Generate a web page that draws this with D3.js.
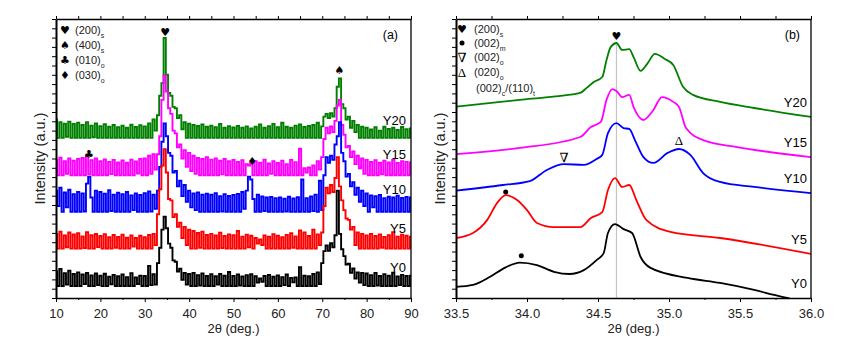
<!DOCTYPE html>
<html>
<head>
<meta charset="utf-8">
<script src="https://cdn.jsdelivr.net/npm/d3@7"></script>
<style>
    body { margin: 0; background: white; }
    svg { display: block; font-family: "Liberation Sans", Arial, sans-serif; }
</style>
</head>
<body>
<div id="container"></div>
<script>
// panel (a): wide scan, one reading every 0.5 deg from 10 to 90 (a.u., already stacked)
const wideStart = 10
const wideStep = 0.5
const wideY0 = [
    9.6, 4.3, 10.4, 4.3, 8.9, 4.8, 9.8, 4.3, 8.6, 4.3,
    9.2, 4.3, 8.4, 5.0, 9.0, 4.3, 8.1, 4.3, 8.8, 4.6,
    8.0, 4.3, 8.7, 4.3, 7.6, 4.9, 8.3, 4.3, 7.8, 4.3,
    8.4, 4.3, 7.5, 4.3, 8.9, 4.3, 7.4, 5.0, 8.0, 4.3,
    7.9, 4.3, 11.5, 4.6, 8.5, 4.8, 12.5, 18.0, 24.5, 29.1,
    25.0, 19.5, 18.0, 13.5, 13.0, 9.5, 10.5, 6.5, 9.0, 4.8,
    8.6, 4.3, 9.0, 4.3, 8.2, 4.5, 8.8, 4.3, 7.9, 4.3,
    8.5, 4.3, 7.8, 4.8, 8.6, 4.3, 8.0, 4.3, 9.3, 4.3,
    7.9, 4.3, 8.4, 4.5, 7.7, 4.3, 8.2, 4.3, 8.5, 4.3,
    7.8, 5.5, 7.0, 5.8, 7.9, 4.3, 8.3, 4.3, 7.6, 4.3,
    8.1, 4.3, 7.5, 4.6, 8.4, 4.3, 7.2, 5.6, 7.4, 4.3,
    11.0, 4.3, 8.0, 4.3, 7.8, 4.3, 8.6, 4.3, 9.2, 5.0,
    12.5, 16.8, 18.8, 16.9, 19.6, 18.2, 22.5, 38.5, 23.0, 17.5,
    15.0, 12.0, 12.3, 9.0, 10.6, 7.0, 9.2, 5.5, 9.0, 4.6,
    8.8, 4.3, 8.2, 4.3, 9.0, 4.5, 7.9, 4.3, 8.5, 4.3,
    8.0, 4.3, 9.1, 4.3, 7.7, 4.6, 8.3, 4.3, 7.9, 4.3,
    8.0
]
const wideY5 = [
    23.0, 17.7, 23.8, 17.7, 22.4, 18.2, 23.5, 17.7, 22.8, 17.7,
    23.2, 17.7, 22.1, 17.9, 23.6, 17.7, 22.5, 17.7, 23.0, 18.3,
    22.2, 17.7, 22.9, 17.7, 21.8, 17.7, 22.6, 18.0, 21.9, 17.7,
    22.7, 17.7, 21.6, 17.7, 22.4, 18.4, 21.5, 17.7, 22.3, 17.7,
    21.8, 17.7, 22.6, 17.7, 23.0, 19.0, 30.0, 39.0, 47.5, 53.3,
    45.0, 35.5, 35.0, 29.0, 30.0, 25.5, 27.0, 21.5, 25.5, 19.0,
    24.5, 17.7, 24.0, 17.7, 23.3, 18.0, 23.8, 17.7, 22.6, 17.7,
    23.0, 17.7, 22.4, 17.7, 23.4, 17.9, 22.2, 17.7, 22.8, 17.7,
    22.5, 17.7, 24.0, 17.7, 22.0, 17.7, 22.7, 18.2, 22.3, 17.7,
    21.5, 19.5, 21.0, 19.0, 22.4, 17.7, 22.0, 17.7, 22.9, 17.7,
    22.3, 17.7, 21.8, 17.7, 22.6, 17.7, 23.2, 18.0, 22.1, 17.7,
    24.2, 17.7, 23.5, 17.7, 22.2, 17.7, 24.5, 17.7, 22.8, 19.0,
    23.5, 33.0, 39.5, 37.5, 40.5, 38.0, 43.0, 50.5, 40.0, 35.0,
    31.5, 28.5, 28.0, 24.5, 25.5, 19.0, 23.5, 17.7, 23.0, 17.7,
    22.4, 17.7, 23.0, 17.7, 22.2, 17.7, 22.8, 18.0, 21.9, 17.7,
    22.5, 17.7, 23.6, 17.7, 22.0, 17.7, 22.7, 17.7, 22.3, 17.7,
    22.0
]
const wideY10 = [
    38.5, 33.0, 39.5, 30.9, 37.8, 32.5, 38.8, 30.9, 37.2, 30.9,
    38.0, 30.9, 37.5, 31.0, 41.0, 43.5, 36.0, 30.9, 38.5, 30.9,
    38.0, 30.9, 37.4, 30.9, 38.6, 31.2, 37.0, 30.9, 37.7, 30.9,
    37.2, 30.9, 38.0, 30.9, 36.8, 31.5, 37.5, 30.9, 36.9, 30.9,
    37.6, 30.9, 38.2, 31.0, 37.0, 32.0, 38.5, 47.0, 56.0, 62.6,
    58.0, 52.0, 51.0, 45.0, 45.5, 40.0, 42.0, 36.5, 40.5, 34.5,
    38.5, 32.5, 37.5, 31.5, 37.8, 30.9, 37.0, 30.9, 37.4, 30.9,
    37.0, 30.9, 37.6, 30.9, 36.5, 31.0, 37.2, 30.9, 36.6, 30.9,
    36.9, 30.9, 37.3, 30.9, 38.0, 32.0, 38.5, 43.5, 42.5, 35.5,
    30.9, 37.0, 30.9, 36.4, 31.2, 36.0, 30.9, 36.2, 30.9, 35.8,
    30.9, 36.0, 30.9, 35.6, 31.0, 36.3, 30.9, 35.7, 30.9, 36.1,
    30.9, 42.5, 30.9, 35.8, 30.9, 36.4, 31.2, 37.0, 30.9, 42.0,
    31.5, 44.0, 50.5, 48.5, 51.0, 49.5, 55.0, 58.0, 63.0, 52.0,
    49.0, 43.5, 44.5, 40.0, 41.5, 37.0, 39.5, 34.5, 38.5, 33.0,
    37.5, 30.9, 36.8, 32.5, 36.5, 30.9, 36.9, 30.9, 35.8, 30.9,
    36.3, 30.9, 36.0, 30.9, 36.7, 30.9, 35.9, 30.9, 36.2, 30.9,
    36.0
]
const wideY15 = [
    49.5, 44.0, 50.3, 44.0, 49.0, 44.5, 50.0, 44.0, 49.2, 44.0,
    49.8, 44.0, 50.2, 44.0, 51.0, 44.3, 49.4, 44.0, 50.0, 44.0,
    49.0, 44.0, 49.7, 44.0, 48.8, 44.4, 49.5, 44.0, 48.6, 44.0,
    49.3, 44.0, 48.5, 44.0, 49.6, 44.0, 48.9, 44.6, 49.8, 44.0,
    50.0, 44.0, 51.0, 44.5, 51.5, 46.0, 51.5, 58.0, 71.0, 79.8,
    74.0, 68.0, 66.0, 60.0, 59.0, 54.0, 55.0, 50.0, 53.0, 47.0,
    52.0, 45.5, 51.0, 44.5, 50.2, 44.0, 49.8, 44.0, 50.5, 44.0,
    49.6, 44.0, 50.0, 44.0, 49.2, 44.3, 49.8, 44.0, 49.0, 44.0,
    49.5, 44.0, 48.8, 44.0, 49.4, 44.0, 48.0, 47.5, 48.6, 44.0,
    49.0, 44.0, 48.5, 44.0, 49.6, 44.0, 48.2, 44.5, 49.0, 44.0,
    48.4, 44.0, 49.2, 44.0, 48.0, 44.0, 49.5, 44.0, 48.7, 44.0,
    53.5, 44.0, 46.5, 45.0, 46.8, 44.0, 47.5, 44.0, 49.0, 46.0,
    50.5, 57.0, 61.0, 59.0, 61.5, 59.5, 63.5, 69.0, 71.0, 62.0,
    58.5, 54.0, 54.5, 50.5, 52.5, 48.0, 51.0, 46.5, 50.0, 44.5,
    49.5, 44.0, 48.8, 44.0, 49.4, 44.0, 48.5, 44.3, 49.2, 44.0,
    48.6, 44.0, 49.5, 44.0, 48.4, 44.0, 49.0, 44.0, 48.8, 44.0,
    48.6
]
const wideY20 = [
    64.0, 57.4, 63.0, 57.4, 62.5, 57.8, 63.2, 57.4, 62.4, 57.4,
    62.8, 57.4, 62.0, 57.4, 63.0, 57.4, 61.8, 57.6, 62.6, 57.4,
    61.6, 57.4, 62.3, 57.4, 61.4, 57.4, 62.0, 57.4, 61.2, 57.4,
    61.8, 57.4, 61.0, 57.4, 62.1, 57.4, 61.3, 57.4, 61.9, 57.4,
    61.5, 57.4, 62.6, 57.4, 64.0, 60.0, 65.5, 72.5, 77.0, 93.2,
    80.0, 73.5, 72.5, 68.5, 68.0, 64.5, 65.5, 60.5, 63.0, 57.4,
    62.5, 57.4, 62.0, 57.4, 61.7, 57.4, 62.2, 57.4, 61.4, 57.4,
    61.8, 57.4, 61.2, 57.4, 62.4, 57.4, 61.0, 57.4, 61.6, 57.4,
    61.1, 57.4, 61.7, 57.4, 61.0, 57.4, 61.5, 57.4, 60.8, 57.4,
    61.4, 57.4, 62.2, 57.4, 61.0, 57.4, 61.6, 57.4, 62.4, 57.4,
    61.2, 57.4, 62.8, 57.4, 61.4, 57.4, 61.0, 57.4, 61.8, 57.4,
    62.2, 57.4, 61.3, 57.4, 61.7, 57.4, 62.0, 57.4, 62.8, 57.4,
    61.5, 65.0, 66.0, 64.5, 66.2, 65.0, 68.0, 75.7, 78.7, 69.5,
    68.0, 64.0, 65.0, 61.0, 63.5, 59.5, 62.0, 57.4, 61.4, 57.4,
    61.0, 57.4, 60.4, 57.4, 61.2, 57.4, 60.0, 57.4, 61.4, 57.4,
    60.6, 57.4, 61.0, 57.4, 60.2, 57.4, 61.3, 57.4, 60.5, 57.4,
    60.8
]

// panel (b): 33.5-36 deg detail, [2theta, intensity]
const zoomY0 = [[33.5, 4.0], [33.62, 4.7], [33.74, 7.6], [33.85, 11.0], [33.95, 12.7], [34.07, 11.8], [34.19, 9.4], [34.3, 8.6],
    [34.4, 10.0], [34.49, 13.6], [34.54, 16.1], [34.57, 23.3], [34.62, 26.5], [34.68, 24.7], [34.74, 23.3], [34.8, 14.7],
    [34.87, 10.8], [35.13, 7.2], [35.36, 5.4], [35.6, 2.9], [35.74, 1.1], [35.85, -0.2], [36.0, -1.4]]
const zoomY5 = [[33.5, 21.5], [33.62, 23.3], [33.72, 28.0], [33.79, 34.1], [33.85, 36.9], [33.93, 35.1], [34.0, 31.5],
    [34.07, 26.9], [34.19, 25.4], [34.375, 25.4], [34.45, 28.7], [34.53, 30.8], [34.57, 38.7], [34.62, 43.0], [34.67, 39.8],
    [34.72, 40.5], [34.77, 35.1], [34.84, 28.0], [35.01, 23.7], [35.36, 21.5], [36.0, 15.8]]
const zoomY10 = [[33.5, 38.5], [33.83, 40.5], [34.02, 41.9], [34.14, 45.9], [34.26, 48.0], [34.4, 47.7], [34.49, 49.8],
    [34.53, 51.3], [34.57, 59.1], [34.63, 62.7], [34.68, 60.9], [34.72, 60.6], [34.76, 56.6], [34.82, 50.5], [34.89, 48.4],
    [34.99, 52.0], [35.07, 53.4], [35.15, 51.3], [35.24, 44.8], [35.36, 41.6], [35.6, 39.8], [36.0, 37.6]]
const zoomY15 = [[33.5, 51.6], [33.95, 53.8], [34.375, 57.7], [34.45, 61.3], [34.52, 63.1], [34.56, 71.0], [34.6, 74.9],
    [34.63, 74.2], [34.67, 72.0], [34.72, 72.8], [34.75, 68.5], [34.82, 63.8], [34.89, 67.4], [34.95, 72.0], [35.03, 70.3],
    [35.07, 68.5], [35.12, 60.9], [35.24, 56.6], [35.48, 54.1], [36.0, 50.5]]
const zoomY20 = [[33.5, 68.6], [33.95, 71.0], [34.2, 72.3], [34.375, 73.5], [34.42, 75.3], [34.47, 77.4], [34.53, 79.2],
    [34.56, 85.3], [34.59, 90.0], [34.63, 91.4], [34.67, 88.9], [34.72, 89.2], [34.75, 86.4], [34.8, 81.4], [34.85, 84.2],
    [34.9, 87.5], [34.97, 85.7], [35.03, 83.5], [35.1, 75.6], [35.17, 72.8], [35.36, 70.3], [35.6, 68.1], [36.0, 64.9]]

const sampleNames = ["Y0", "Y5", "Y10", "Y15", "Y20"]
const sampleColors = ["#000000", "#ff0000", "#0000ff", "#ff00ff", "#008000"]

const wideTicks = [10, 20, 30, 40, 50, 60, 70, 80, 90]
const wideMinor = [15, 25, 35, 45, 55, 65, 75, 85]
const zoomTicks = [33.5, 34.0, 34.5, 35.0, 35.5, 36.0]
const zoomMinor = [33.75, 34.25, 34.75, 35.25, 35.75]

// peak markers: [symbol, 2theta, intensity]
const wideMarks = [["\u2665", 34.6, 95.0], ["\u2660", 73.9, 81.4], ["\u2663", 17.4, 51.6], ["\u2666", 54.2, 49.1]]
const zoomMarks = [["\u2665", 34.63, 93.9], ["\u2207", 34.26, 50.5], ["\u0394", 35.07, 56.3], ["\u2022", 33.85, 38.0], ["\u2022", 33.96, 15.1]]
const refLine = 34.63

// legends: [symbol, index, phase]
const wideLegend = [["\u2665", "(200)", "s"], ["\u2660", "(400)", "s"], ["\u2663", "(010)", "o"], ["\u2666", "(030)", "o"]]
const zoomLegend = [["\u2665", "(200)", "s"], ["\u2022", "(002)", "m"], ["\u2207", "(002)", "o"], ["\u0394", "(020)", "o"], ["", "(002)", "c", "/(110)", "t"]]

const svg = d3.select("#container")
    .append("svg")
    .attr("width", 847)
    .attr("height", 363)
    .style("background-color", "white")

const yScale = d3.scaleLinear().domain([0, 100]).range([298, 19])
const xWide = d3.scaleLinear().domain([10, 90]).range([56, 411])
const xZoom = d3.scaleLinear().domain([33.5, 36]).range([456, 811])

function clip(x, id) {
    svg.append("clipPath")
        .attr("id", id)
        .append("rect")
        .attr("x", x.range()[0])
        .attr("y", yScale.range()[1])
        .attr("width", x.range()[1] - x.range()[0])
        .attr("height", yScale.range()[0] - yScale.range()[1])
}
clip(xWide, "clip-a")
clip(xZoom, "clip-b")

// panel (a) traces, Y20 at the back, Y0 in front
const wideValues = [wideY0, wideY5, wideY10, wideY15, wideY20]
const wideLine = d3.line()
    .x((d, i) => xWide(wideStart + i * wideStep))
    .y((d) => yScale(d))
    .curve(d3.curveStep)
const gA = svg.append("g").attr("clip-path", "url(#clip-a)")
d3.range(4, -1, -1).forEach((k) => {
    gA.append("path")
        .attr("d", wideLine(wideValues[k]))
        .attr("fill", "none")
        .attr("stroke", sampleColors[k])
        .attr("stroke-width", 1.9)
})

// panel (b) traces
const zoomValues = [zoomY0, zoomY5, zoomY10, zoomY15, zoomY20]
const zoomLine = d3.line()
    .x((d) => xZoom(d[0]))
    .y((d) => yScale(d[1]))
    .curve(d3.curveMonotoneX)
const gB = svg.append("g").attr("clip-path", "url(#clip-b)")
gB.append("line")
    .attr("x1", xZoom(refLine))
    .attr("x2", xZoom(refLine))
    .attr("y1", yScale(91))
    .attr("y2", yScale(0))
    .attr("stroke", "#c4c4c4")
    .attr("stroke-width", 1.2)
d3.range(4, -1, -1).forEach((k) => {
    gB.append("path")
        .attr("d", zoomLine(zoomValues[k]))
        .attr("fill", "none")
        .attr("stroke", sampleColors[k])
        .attr("stroke-width", 1.8)
})

// sample labels at the right end of each trace
function sampleLabels(values, last, xRight, lift) {
    values.forEach((v, k) => {
        svg.append("text")
            .attr("x", xRight)
            .attr("y", yScale(last(v)) - lift)
            .attr("text-anchor", "end")
            .style("font-size", "13px")
            .text(sampleNames[k])
    })
}
sampleLabels(wideValues, (v) => v[v.length - 1], 406, 3.5)
sampleLabels(zoomValues, (v) => Math.max(v[v.length - 1][1], 0), 807, 10)

// axes and frame
function axes(x, majors, minors, fmt) {
    const y1 = yScale.range()[0]
    const y0 = yScale.range()[1]
    const bottom = svg.append("g")
        .attr("transform", `translate(0, ${y1})`)
        .call(d3.axisBottom(x).tickValues(majors).tickSize(4).tickSizeOuter(0).tickPadding(7).tickFormat(fmt))
        .attr("font-size", 13)
        .attr("font-family", null)
    bottom.selectAll("text").attr("fill", "#222")
    bottom.select(".domain").attr("stroke-width", 1.3)
    svg.append("g")
        .attr("transform", `translate(0, ${y1})`)
        .call(d3.axisBottom(x).tickValues(minors).tickSize(2).tickFormat(""))
        .select(".domain").remove()
    svg.append("g")
        .attr("transform", `translate(0, ${y0})`)
        .call(d3.axisTop(x).tickValues(majors.concat(minors)).tickSize(3).tickSizeOuter(0).tickFormat(""))
        .select(".domain").attr("stroke-width", 1.3)
    svg.append("g")
        .attr("transform", `translate(${x.range()[0]}, 0)`)
        .call(d3.axisLeft(yScale).tickValues(d3.range(0, 100.01, 10 / 3)).tickSize(4).tickSizeOuter(0).tickFormat(""))
        .select(".domain").attr("stroke-width", 2)
    svg.append("line")
        .attr("x1", x.range()[1])
        .attr("x2", x.range()[1])
        .attr("y1", y0)
        .attr("y2", y1)
        .attr("stroke", "black")
        .attr("stroke-width", 1.3)

    svg.append("text")
        .attr("x", (x.range()[0] + x.range()[1]) / 2)
        .attr("y", 333)
        .attr("text-anchor", "middle")
        .style("font-size", "13px")
        .attr("fill", "#222")
        .text("2\u03b8 (deg.)")
    svg.append("text")
        .attr("transform", `translate(${x.range()[0] - 11}, ${(y0 + y1) / 2}) rotate(-90)`)
        .attr("text-anchor", "middle")
        .style("font-size", "14.5px")
        .attr("fill", "#222")
        .text("Intensity (a.u.)")
}
axes(xWide, wideTicks, wideMinor, d3.format("d"))
axes(xZoom, zoomTicks, zoomMinor, d3.format(".1f"))

svg.append("text").attr("x", 398).attr("y", 38.5).attr("text-anchor", "end").style("font-size", "12.5px").text("(a)")
svg.append("text").attr("x", 800).attr("y", 38.5).attr("text-anchor", "end").style("font-size", "12.5px").text("(b)")

function symbolFont(s) {
    return s === "\u2207" || s === "\u0394" ? "'Liberation Serif', 'DejaVu Serif', serif" : "'DejaVu Sans', sans-serif"
}

// one symbol; the bullet is drawn as a dot so its box stays small
function symbol(s, cx, cy) {
    if (s === "") return
    if (s === "\u2022") {
        svg.append("circle").attr("cx", cx).attr("cy", cy).attr("r", 2.5).attr("fill", "black")
        return
    }
    svg.append("text")
        .attr("x", cx)
        .attr("y", cy)
        .attr("text-anchor", "middle")
        .attr("dominant-baseline", "central")
        .style("font-family", symbolFont(s))
        .style("font-size", s === "\u2207" || s === "\u0394" ? "13px" : "11px")
        .text(s)
}

// peak markers
function marks(list, x) {
    list.forEach((m) => symbol(m[0], x(m[1]), yScale(m[2])))
}
marks(wideMarks, xWide)
marks(zoomMarks, xZoom)

// legends
function legend(list, symX, textX, rowY) {
    list.forEach((row, i) => {
        const y = rowY[i]
        symbol(row[0], symX, y)
        const t = svg.append("text")
            .attr("x", textX + (row[0] === "" ? 2 : 0))
            .attr("y", y + 4)
            .style("font-size", "11px")
            .attr("fill", "#222")
        t.append("tspan").text(row[1])
        t.append("tspan").attr("dy", 3.5).style("font-size", "7px").text(row[2])
        if (row.length > 3) {
            t.append("tspan").attr("dy", -3.5).text(row[3])
            t.append("tspan").attr("dy", 3.5).style("font-size", "7px").text(row[4])
        }
    })
}
legend(wideLegend, 65, 75, [30, 45, 60, 75])
legend(zoomLegend, 462, 474, [29, 43, 57, 72, 88])
</script>
</body>
</html>
